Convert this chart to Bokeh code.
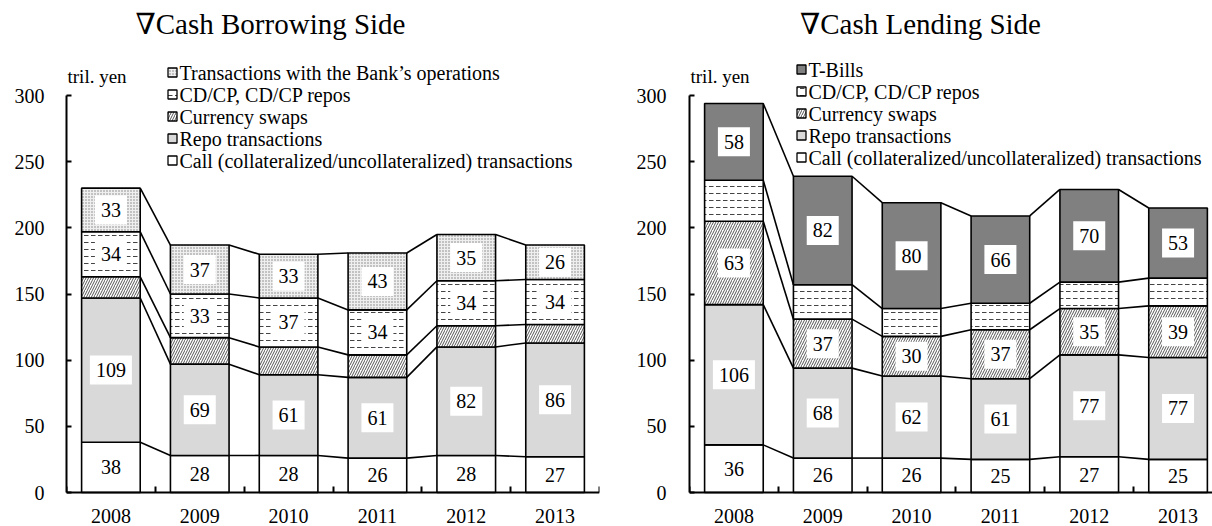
import numpy as np
from bokeh.plotting import figure
from bokeh.layouts import row
from bokeh.models import Range1d, FixedTicker, Label
from bokeh.core.properties import value
from bokeh.embed import file_html
from bokeh.resources import INLINE

years = ["2008", "2009", "2010", "2011", "2012", "2013"]

# Cash Borrowing Side (tril. yen)
b_call = [38, 28, 28, 26, 28, 27]
b_repo = [109, 69, 61, 61, 82, 86]
b_swap = [16, 20, 21, 17, 16, 14]
b_cdcp = [34, 33, 37, 34, 34, 34]
b_boj = [33, 37, 33, 43, 35, 26]

# Cash Lending Side (tril. yen)
l_call = [36, 26, 26, 25, 27, 25]
l_repo = [106, 68, 62, 61, 77, 77]
l_swap = [63, 37, 30, 37, 35, 39]
l_cdcp = [31, 26, 21, 20, 20, 21]
l_tbill = [58, 82, 80, 66, 70, 53]

FONT = "Liberation Serif, Times New Roman, Tinos, DejaVu Serif, serif"
PX_X = 88.83          # pixels per category
PX_Y = 1.3233         # pixels per tril. yen
AXIS_Y = 492          # page y of the zero line
H = 526
Y_TOP = AXIS_Y / PX_Y
Y_BOT = -(H - AXIS_Y) / PX_Y
BAR_W = 0.66

STYLES = {
    "call": dict(fill_color="white"),
    "repo": dict(fill_color="#d9d9d9"),
    "swap": dict(fill_color="white", hatch_pattern="right_diagonal_line",
                 hatch_color="#555555", hatch_scale=5, hatch_weight=1),
    "cdcp": dict(fill_color="white", hatch_pattern="horizontal_dash",
                 hatch_color="#444444", hatch_scale=7, hatch_weight=1),
    "boj": dict(fill_color="#efefef", hatch_pattern="dot",
                hatch_color="#808080", hatch_scale=3, hatch_weight=1),
    "tbill": dict(fill_color="#808080"),
}


def make_panel(series, title, title_px, frame_left, legend_px, legend_top,
               width, border_left, border_right, x_end, label_standoff):
    p = figure(width=width, height=H, x_range=Range1d(0, x_end),
               y_range=Range1d(Y_BOT, Y_TOP), output_backend="svg",
               toolbar_location=None, min_border_left=border_left,
               min_border_right=border_right, min_border_top=0,
               min_border_bottom=0)
    p.outline_line_color = None
    p.grid.visible = False

    n = len(years)
    xc = np.arange(n) + 0.5
    bottom = np.zeros(n)
    for key, name, vals, lab in series:
        top = bottom + np.array(vals, dtype=float)
        p.segment(x0=xc[:-1] + BAR_W / 2, y0=top[:-1], x1=xc[1:] - BAR_W / 2,
                  y1=top[1:], line_color="black", line_width=1.6)
        bottom = top
    bottom = np.zeros(n)
    lx, ly, lt, lw = [], [], [], []
    for key, name, vals, lab in series:
        top = bottom + np.array(vals, dtype=float)
        p.vbar(x=xc, width=BAR_W, bottom=bottom, top=top, line_color="black",
               line_width=1.6, **STYLES[key])
        if lab:
            for i, v in enumerate(vals):
                lx.append(xc[i])
                ly.append((bottom[i] + top[i]) / 2)
                lt.append(str(v))
                lw.append(10 * len(str(v)) + 12)
        bottom = top
    p.rect(x=lx, y=ly, width=lw, height=29, width_units="screen",
           height_units="screen", fill_color="white", line_color=None)
    p.text(x=lx, y=ly, text=lt, text_align="center", text_baseline="middle",
           text_font=value(FONT), text_font_size="20px", text_color="black")

    # legend, top entry first
    sq_x = (legend_px - frame_left) / PX_X
    for j, (key, name, vals, lab) in enumerate(reversed(series)):
        yy = (AXIS_Y - (legend_top + 22 * j)) / PX_Y
        p.rect(x=[sq_x], y=[yy], width=9, height=9, width_units="screen",
               height_units="screen", line_color="black", line_width=1.3,
               **STYLES[key])
        p.text(x=[sq_x + 7 / PX_X], y=[yy], text=[name], text_align="left",
               text_baseline="middle", text_font=value(FONT),
               text_font_size="20px", text_color="black")

    p.add_layout(Label(x=(title_px - frame_left) / PX_X,
                       y=(AXIS_Y - 23) / PX_Y, text=title,
                       text_align="center", text_baseline="middle",
                       text_font=FONT, text_font_size="29px",
                       text_color="black"))
    p.add_layout(Label(x=1 / PX_X, y=(AXIS_Y - 76) / PX_Y, text="tril. yen",
                       text_align="left", text_baseline="middle",
                       text_font=FONT, text_font_size="19px",
                       text_color="black"))

    ya = p.yaxis[0]
    ya.ticker = FixedTicker(ticks=[0, 50, 100, 150, 200, 250, 300])
    ya.bounds = (0, 300)
    ya.major_tick_in = 5
    ya.major_tick_out = 0
    ya.minor_tick_line_color = None
    ya.axis_line_width = 2
    ya.major_tick_line_width = 2
    ya.axis_line_color = "black"
    ya.major_tick_line_color = "black"
    ya.major_label_text_font = FONT
    ya.major_label_text_font_size = "20px"
    ya.major_label_text_color = "black"
    ya.major_label_standoff = label_standoff

    xa = p.xaxis[0]
    xa.fixed_location = 0
    xa.ticker = FixedTicker(ticks=list(xc), minor_ticks=list(range(n + 1)))
    xa.major_label_overrides = {float(c): y for c, y in zip(xc, years)}
    xa.major_tick_in = 0
    xa.major_tick_out = 0
    xa.minor_tick_in = 6
    xa.minor_tick_out = 0
    xa.minor_tick_line_width = 2
    xa.minor_tick_line_color = "black"
    xa.axis_line_width = 2
    xa.axis_line_color = "black"
    xa.major_label_text_font = FONT
    xa.major_label_text_font_size = "20px"
    xa.major_label_text_color = "black"
    xa.major_label_standoff = 16
    return p


left_series = [
    ("call", "Call (collateralized/uncollateralized) transactions", b_call, True),
    ("repo", "Repo transactions", b_repo, True),
    ("swap", "Currency swaps", b_swap, False),
    ("cdcp", "CD/CP, CD/CP repos", b_cdcp, True),
    ("boj", "Transactions with the Bank\u2019s operations", b_boj, True),
]
right_series = [
    ("call", "Call (collateralized/uncollateralized) transactions", l_call, True),
    ("repo", "Repo transactions", l_repo, True),
    ("swap", "Currency swaps", l_swap, True),
    ("cdcp", "CD/CP, CD/CP repos", l_cdcp, False),
    ("tbill", "T-Bills", l_tbill, True),
]

# left panel: page x 0..632, frame 66..599
p1 = make_panel(left_series, "\u2207Cash Borrowing Side", 270, 66, 172, 72,
                632, 66, 33, 6.0, 22)
# right panel: page x 632..1212, frame 689..1212
p2 = make_panel(right_series, "\u2207Cash Lending Side", 920, 689, 801, 69,
                580, 57, 0, (1212 - 689) / PX_X, 23)

layout = row(p1, p2)
open("out.html", "w").write(file_html(layout, INLINE))
